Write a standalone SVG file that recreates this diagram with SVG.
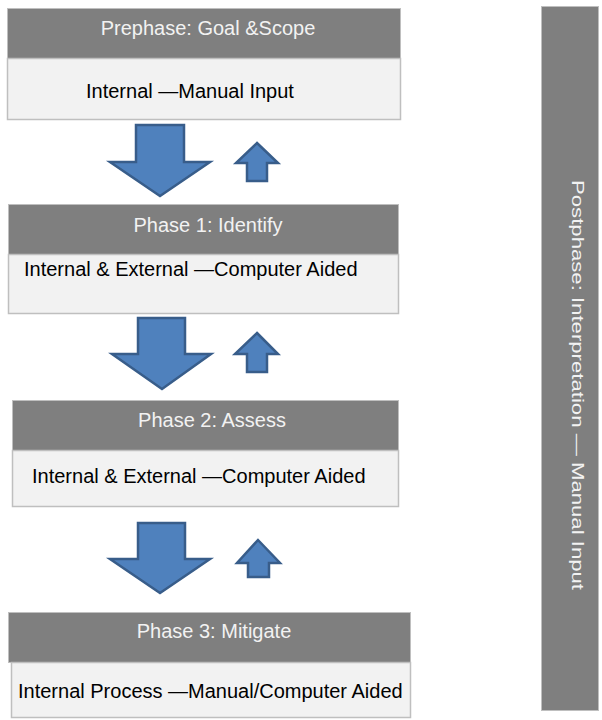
<svg xmlns="http://www.w3.org/2000/svg" width="602" height="720" viewBox="0 0 602 720">
  <style>
    .head { fill: #7f7f7f; stroke: #bfbfbf; stroke-width: 1; }
    .body { fill: #f2f2f2; stroke: #bfbfbf; stroke-width: 1.5; }
    .htxt { font-family: "Liberation Sans", Arial, sans-serif; font-size: 20px; fill: #f2f2f2; }
    .btxt { font-family: "Liberation Sans", Arial, sans-serif; font-size: 20px; fill: #000000; }
    .arrow { fill: #4f81bd; stroke: #385d8a; stroke-width: 2.5; stroke-linejoin: miter; }
    .side { fill: #7f7f7f; stroke: #bfbfbf; stroke-width: 1; }
    .stxt { font-family: "Liberation Sans", Arial, sans-serif; font-size: 16px; fill: #f2f2f2; }
  </style>

  <rect width="602" height="720" fill="#ffffff"/>

  <!-- Prephase -->
  <g id="prephase">
    <rect class="head" x="7.5" y="8.5" width="393" height="50"/>
    <rect class="body" x="7.5" y="58.5" width="393" height="61"/>
    <text class="htxt" x="208" y="35" text-anchor="middle">Prephase: Goal &amp;Scope</text>
    <text class="btxt" x="86" y="98">Internal —Manual Input</text>
  </g>

  <!-- Phase 1 -->
  <g id="phase1">
    <rect class="head" x="8.5" y="204.5" width="390" height="50"/>
    <rect class="body" x="8.5" y="254.5" width="390" height="59"/>
    <text class="htxt" x="208" y="231.5" text-anchor="middle">Phase 1: Identify</text>
    <text class="btxt" x="24" y="276">Internal &amp; External —Computer Aided</text>
  </g>

  <!-- Phase 2 -->
  <g id="phase2">
    <rect class="head" x="12.5" y="400.5" width="386" height="50"/>
    <rect class="body" x="12.5" y="450.5" width="386" height="56"/>
    <text class="htxt" x="212" y="426.5" text-anchor="middle">Phase 2: Assess</text>
    <text class="btxt" x="32" y="483">Internal &amp; External —Computer Aided</text>
  </g>

  <!-- Phase 3 -->
  <g id="phase3">
    <rect class="head" x="8.5" y="612.5" width="402" height="50"/>
    <rect class="body" x="11.5" y="662.5" width="399" height="55"/>
    <text class="htxt" x="214" y="638" text-anchor="middle">Phase 3: Mitigate</text>
    <text class="btxt" x="18" y="698">Internal Process —Manual/Computer Aided</text>
  </g>

  <!-- Postphase side bar -->
  <g id="postphase">
    <rect class="side" x="541.5" y="6.5" width="57" height="704"/>
    <text class="stxt" transform="translate(572 180) rotate(90)" x="0" y="0" textLength="410" lengthAdjust="spacingAndGlyphs">Postphase: Interpretation — Manual Input</text>
  </g>

  <!-- Flow arrows between phases -->
  <g id="connectors">
    <polygon class="arrow" points="136,125 184,125 184,162 210,162 160,196 110,162 136,162"/>
    <polygon class="arrow" points="257,143 278,163 267,163 267,181 247,181 247,163 236,163"/>

    <polygon class="arrow" points="138,318 185,318 185,354 211,354 162,389 112,354 138,354"/>
    <polygon class="arrow" points="257,333 278,354 267,354 267,372 247,372 247,354 235,354"/>

    <polygon class="arrow" points="138,523 185,523 185,559 210,559 160,593 110,559 138,559"/>
    <polygon class="arrow" points="258,540 280,563 269,563 269,577 248,577 248,563 237,563"/>
  </g>
</svg>
